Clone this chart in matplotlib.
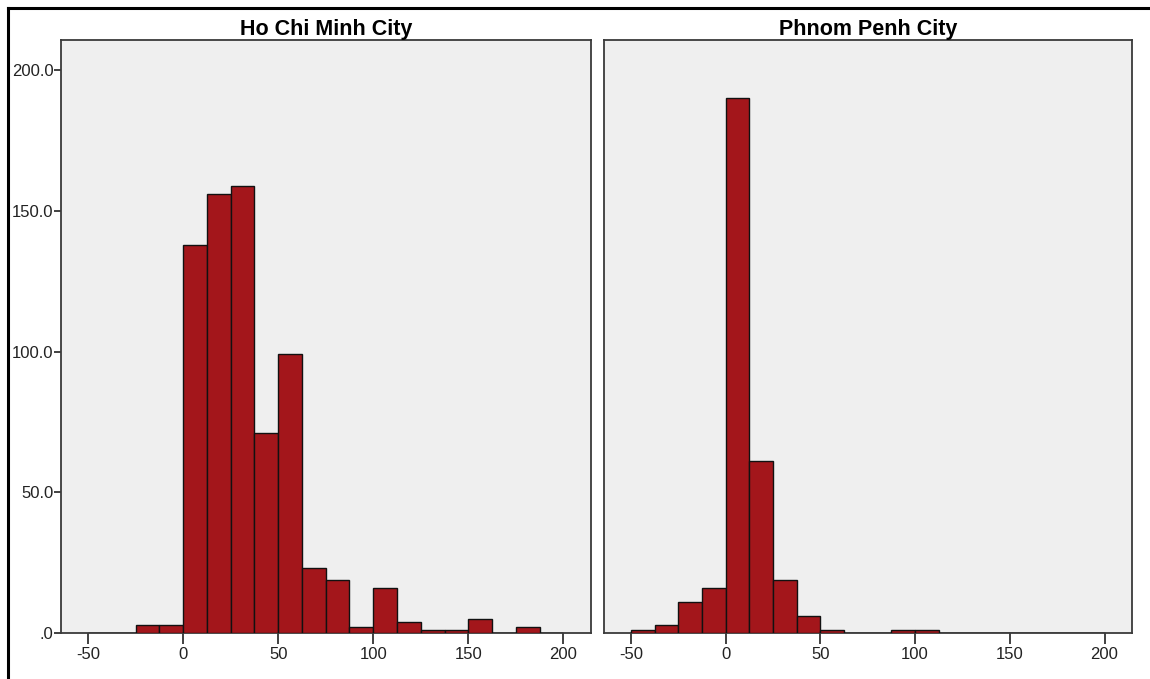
import numpy as np
import matplotlib.pyplot as plt
from matplotlib.lines import Line2D
from matplotlib.ticker import FuncFormatter

plt.rcParams['font.family'] = ['Liberation Sans', 'DejaVu Sans']

# histogram bins (width 12.5) and counts per city
bin_left = np.arange(-50, 200, 12.5)
bin_width = 12.5
cities = ['Ho Chi Minh City', 'Phnom Penh City']
hcm_counts = [0, 0, 3, 3, 138, 156, 159, 71, 99, 23, 19, 2, 16, 4, 1, 1, 5, 0, 2, 0]
pp_counts = [1, 3, 11, 16, 190, 61, 19, 6, 1, 0, 0, 1, 1, 0, 0, 0, 0, 0, 0, 0]
x_ticks = [-50, 0, 50, 100, 150, 200]
y_ticks = [0, 50, 100, 150, 200]

fig = plt.figure(figsize=(11.5, 6.79), dpi=100)
fig.patch.set_facecolor('white')

# outer frame (top and left edge)
fig.add_artist(Line2D([8/1150, 1], [1 - 8/679, 1 - 8/679], color='black', lw=2.2))
fig.add_artist(Line2D([8/1150, 8/1150], [0, 1 - 8/679], color='black', lw=2.2))

bottom = 1 - 633/679
height = (633 - 40) / 679
ax1 = fig.add_axes([61/1150, bottom, 530/1150, height])
ax2 = fig.add_axes([604/1150, bottom, 528/1150, height])


def yfmt(v, pos):
    s = f'{v:.1f}'
    return '.0' if v == 0 else s


for ax, title, counts in zip([ax1, ax2], cities, [hcm_counts, pp_counts]):
    ax.set_facecolor('#efefef')
    ax.bar(bin_left, counts, width=bin_width, align='edge',
           color='#a3161b', edgecolor='#111111', linewidth=1.0, zorder=3)
    ax.set_xlim(-64.2, 214.5)
    ax.set_ylim(0, 210.7)
    ax.set_xticks(x_ticks)
    ax.set_xticklabels([str(t) for t in x_ticks])
    ax.tick_params(axis='x', length=8, width=1.3, color='#333333',
                   labelsize=12, labelcolor='#222222', pad=2)
    for sp in ax.spines.values():
        sp.set_color('#3a3a3a')
        sp.set_linewidth(1.3)
    ax.set_title(title, fontsize=15.5, fontweight='bold', pad=3)

ax1.set_yticks(y_ticks)
ax1.yaxis.set_major_formatter(FuncFormatter(yfmt))
ax1.tick_params(axis='y', length=5, width=1.3, color='#333333',
                labelsize=12, labelcolor='#222222', pad=0.5)
ax2.set_yticks([])

fig.savefig('out.png', dpi=100)
